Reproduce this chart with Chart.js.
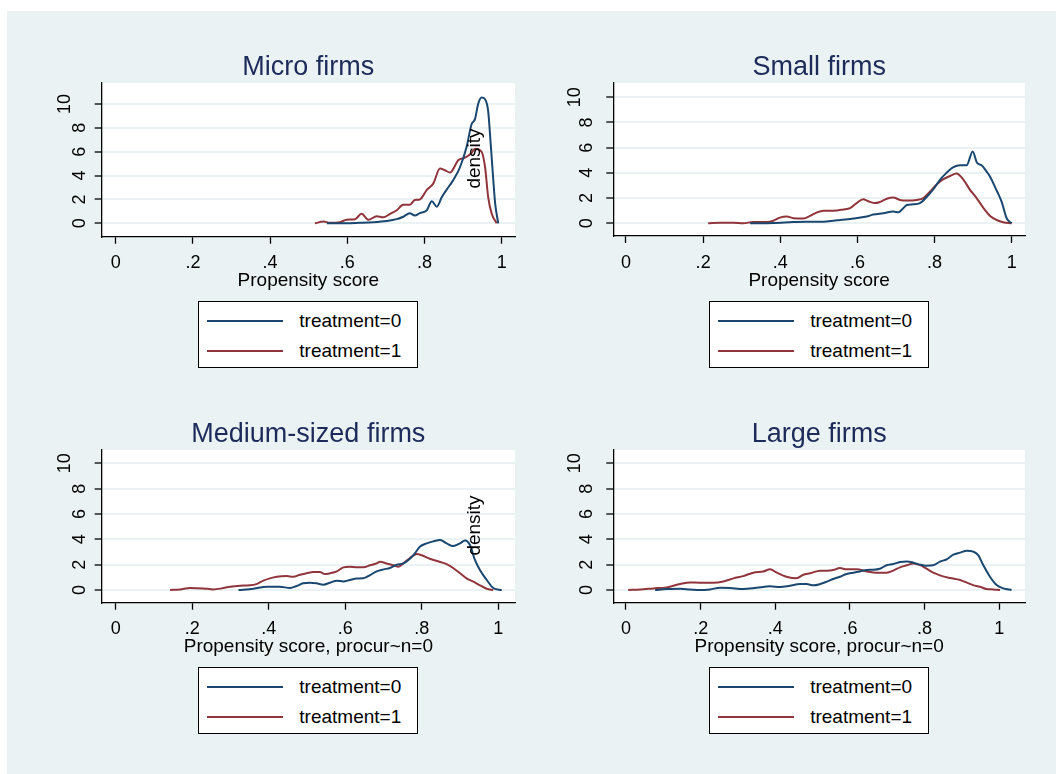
<!DOCTYPE html>
<html>
<head>
<meta charset="utf-8">
<title>Propensity score densities by firm size</title>
<script src="https://cdn.jsdelivr.net/npm/chart.js@4.4.1/dist/chart.umd.min.js"></script>
<style>
  html, body { margin: 0; padding: 0; background: #fff; }
  body { width: 1056px; height: 774px; position: relative; overflow: hidden; font-family: "Liberation Sans", Arial, sans-serif; }
  #graph { position: absolute; left: 7px; top: 11px; right: 0; bottom: 0; background: #eaf2f3; }
  canvas { position: absolute; }
  .legend { position: absolute; width: 220px; height: 67px; box-sizing: border-box; border: 1px solid #000; background: #fff; }
  .legend .swatch { position: absolute; left: 8px; width: 76px; height: 2px; }
  .legend .label { position: absolute; left: 100px; font-size: 19px; line-height: 22px; color: #000; white-space: nowrap; }
</style>
</head>
<body>
<div id="graph"></div>

<script>
// axis ticks
const TICKS_X = [0, 0.2, 0.4, 0.6, 0.8, 1];
const TICK_LABELS_X = ['0', '.2', '.4', '.6', '.8', '1'];
const TICKS_Y = [0, 2, 4, 6, 8, 10];

const SERIES_LABELS = ['treatment=0', 'treatment=1'];
const PANEL_TITLES = ['Micro firms', 'Small firms', 'Medium-sized firms', 'Large firms'];
const X_TITLES = ['Propensity score', 'Propensity score',
                  'Propensity score, procur~n=0', 'Propensity score, procur~n=0'];

// kernel density curves (x = propensity score, y = density)
const MICRO_T0_X = [.547,.58,.633,.668,.702,.728,.745,.762,.775,.788,.806,.819,.832,.845,.857,.874,.892,.909,.922,.931,.939,.948,.957,.965,.971,.977,.983,.991];
const MICRO_T0_Y = [0,0,.05,.1,.2,.35,.55,.85,.65,.85,1.1,1.85,1.4,2.2,2.8,3.6,4.7,6.4,8.3,8.75,10,10.55,10.4,9.4,6.9,4.2,1.7,0];
const MICRO_T1_X = [.516,.538,.555,.581,.598,.62,.637,.655,.676,.693,.711,.728,.745,.762,.775,.788,.806,.823,.84,.853,.866,.888,.905,.922,.931,.948,.957,.965,.974,.987];
const MICRO_T1_Y = [0,.15,.05,.1,.3,.35,.8,.3,.6,.5,.8,1.1,1.55,1.55,1.95,2.0,2.8,3.35,4.6,4.45,4.25,5.3,5.5,5.9,6.25,6.0,4.7,2.2,.83,0];

const SMALL_T0_X = [.322,.382,.434,.468,.512,.538,.555,.59,.624,.641,.667,.693,.706,.719,.728,.745,.762,.78,.797,.814,.831,.849,.866,.883,.899,.91,.922,.935,.944,.961,.974,.987,1.0];
const SMALL_T0_Y = [0,.03,.1,.13,.13,.2,.26,.37,.53,.69,.8,.93,.87,1.2,1.45,1.5,1.6,2.1,2.7,3.45,4.0,4.45,4.6,4.6,5.7,4.8,4.6,4.1,3.7,2.6,1.7,.4,0];
const SMALL_T1_X = [.213,.244,.278,.304,.33,.365,.382,.399,.417,.434,.46,.477,.494,.512,.538,.564,.581,.598,.615,.628,.646,.659,.676,.693,.71,.728,.754,.771,.788,.806,.823,.84,.857,.875,.892,.909,.927,.944,.961,.978,1.0];
const SMALL_T1_Y = [0,.05,.05,0,.1,.1,.2,.45,.53,.4,.37,.58,.85,1.0,1.0,1.1,1.2,1.6,1.9,1.75,1.6,1.7,1.95,2.05,1.85,1.8,1.85,2.0,2.5,3.1,3.5,3.75,3.95,3.45,2.65,2.0,1.2,.58,.26,.08,0];

const MEDIUM_T0_X = [.321,.36,.395,.429,.456,.473,.49,.508,.525,.543,.56,.578,.595,.612,.63,.647,.665,.682,.7,.717,.734,.752,.769,.782,.795,.813,.83,.848,.865,.882,.9,.913,.926,.939,.952,.97,.987,1.009];
const MEDIUM_T0_Y = [0,.1,.26,.26,.16,.32,.53,.58,.53,.42,.58,.74,.68,.79,.9,.92,1.18,1.47,1.63,1.74,2.0,2.1,2.47,2.9,3.42,3.68,3.84,3.95,3.68,3.47,3.68,3.9,3.55,2.37,1.58,.79,.16,0];
const MEDIUM_T1_X = [.142,.168,.194,.229,.255,.277,.299,.325,.351,.368,.386,.403,.421,.447,.464,.482,.499,.517,.534,.547,.56,.578,.595,.612,.63,.647,.665,.682,.691,.708,.726,.739,.752,.769,.787,.8,.821,.848,.865,.882,.9,.917,.935,.952,.97,.987];
const MEDIUM_T1_Y = [0,.05,.16,.13,.05,.13,.26,.34,.37,.47,.74,.92,1.05,1.1,1.05,1.21,1.32,1.42,1.42,1.26,1.32,1.47,1.79,1.84,1.79,1.79,1.95,2.1,2.24,2.1,1.95,1.84,2.1,2.53,2.84,2.74,2.47,2.21,2.05,1.74,1.32,.92,.66,.37,.1,0];

const LARGE_T0_X = [.078,.109,.145,.171,.198,.225,.252,.279,.314,.35,.386,.413,.439,.466,.484,.502,.52,.538,.555,.573,.591,.609,.627,.645,.663,.68,.698,.716,.734,.752,.77,.788,.805,.823,.841,.859,.877,.895,.913,.93,.944,.957,.975,.993,1.011,1.033];
const LARGE_T0_Y = [0,.08,.1,.05,0,.05,.18,.16,.08,.18,.29,.24,.34,.47,.47,.37,.47,.66,.87,1.05,1.26,1.37,1.47,1.58,1.6,1.68,1.95,2.05,2.21,2.26,2.16,2.0,1.92,1.95,2.24,2.42,2.79,2.95,3.1,3.03,2.74,1.97,1.05,.39,.13,0];
const LARGE_T1_X = [.006,.038,.073,.109,.145,.171,.198,.234,.261,.288,.314,.341,.368,.386,.404,.43,.457,.475,.493,.52,.538,.555,.573,.591,.618,.645,.671,.698,.716,.734,.752,.77,.788,.805,.823,.841,.868,.895,.913,.93,.948,.966,.984,1.002];
const LARGE_T1_Y = [0,.05,.13,.21,.47,.6,.58,.58,.68,.92,1.1,1.37,1.47,1.63,1.37,1.05,.92,1.21,1.32,1.53,1.53,1.58,1.74,1.63,1.63,1.47,1.37,1.37,1.53,1.79,1.95,2.1,1.97,1.68,1.37,1.16,.95,.79,.58,.39,.26,.08,.05,0];

const BLUE = '#1a476f';
const RED = '#90353b';
const GRID = '#eaf2f3';
const TITLE_COLOR = '#1c2b5a';
const FONT = '"Liberation Sans", Arial, Helvetica, sans-serif';

// canvas box and plot area in page pixels, scale ranges so ticks land where Stata put them
const panels = [
    { curves: [[MICRO_T0_X, MICRO_T0_Y], [MICRO_T1_X, MICRO_T1_Y]],
      box: { x: 0, y: 40, w: 528, h: 254 }, area: { l: 101.7, t: 83, r: 515, b: 236.7 },
      xMin: -0.0363, xMax: 1.0345, yMin: -1.12, yMax: 11.76,
      yGap: 21.7, yShift: 15.3, density: true, legendTop: 301 },
    { curves: [[SMALL_T0_X, SMALL_T0_Y], [SMALL_T1_X, SMALL_T1_Y]],
      box: { x: 528, y: 40, w: 528, h: 254 }, area: { l: 613.3, t: 83, r: 1025, b: 236 },
      xMin: -0.0329, xMax: 1.0345, yMin: -1.01, yMax: 11.13,
      yGap: 26.5, yShift: 11.8, density: false, legendTop: 301 },
    { curves: [[MEDIUM_T0_X, MEDIUM_T0_Y], [MEDIUM_T1_X, MEDIUM_T1_Y]],
      box: { x: 0, y: 405, w: 528, h: 255 }, area: { l: 101.7, t: 450, r: 515, b: 602.7 },
      xMin: -0.0366, xMax: 1.0437, yMin: -1.0, yMax: 11.05,
      yGap: 21.7, yShift: 15.3, density: true, legendTop: 667 },
    { curves: [[LARGE_T0_X, LARGE_T0_Y], [LARGE_T1_X, LARGE_T1_Y]],
      box: { x: 528, y: 405, w: 528, h: 255 }, area: { l: 613.3, t: 450, r: 1025, b: 602.7 },
      xMin: -0.034, xMax: 1.0689, yMin: -1.0, yMax: 11.05,
      yGap: 26.5, yShift: 11.8, density: false, legendTop: 667 }
];

// white plot region, title, rotated y labels and the stray "density" axis title
const stataDecor = {
    id: 'stataDecor',
    beforeDraw(chart) {
        const a = chart.chartArea;
        const ctx = chart.ctx;
        ctx.save();
        ctx.fillStyle = '#fff';
        ctx.fillRect(a.left, a.top, a.right - a.left, a.bottom - a.top);
        ctx.restore();
    },
    afterDraw(chart, args, opts) {
        const a = chart.chartArea;
        const ctx = chart.ctx;
        const yScale = chart.scales.y;

        ctx.save();
        ctx.fillStyle = TITLE_COLOR;
        ctx.font = '27px ' + FONT;
        ctx.textAlign = 'center';
        ctx.textBaseline = 'alphabetic';
        ctx.fillText(opts.title, (a.left + a.right) / 2, a.top - 8);

        ctx.fillStyle = '#000';
        ctx.font = '18px ' + FONT;
        ctx.textBaseline = 'middle';
        TICKS_Y.forEach(v => {
            const label = String(v);
            const cx = a.left - opts.yGap - (label.length - 1) * opts.yShift;
            ctx.save();
            ctx.translate(cx, yScale.getPixelForValue(v));
            ctx.rotate(-Math.PI / 2);
            ctx.fillText(label, 0, 0);
            ctx.restore();
        });

        if (opts.density) {
            ctx.font = '19px ' + FONT;
            ctx.translate(a.left + 373, a.top + 75.5);
            ctx.rotate(-Math.PI / 2);
            ctx.fillText('density', 0, 0);
        }
        ctx.restore();
    }
};

panels.forEach((p, i) => {
    const canvas = document.createElement('canvas');
    canvas.width = p.box.w;
    canvas.height = p.box.h;
    canvas.style.left = p.box.x + 'px';
    canvas.style.top = p.box.y + 'px';
    canvas.style.width = p.box.w + 'px';
    canvas.style.height = p.box.h + 'px';
    document.body.appendChild(canvas);

    const colors = [BLUE, RED];
    const datasets = p.curves.map(([xs, ys], k) => ({
        label: SERIES_LABELS[k],
        data: xs.map((x, j) => ({ x: x, y: ys[j] })),
        borderColor: colors[k],
        borderWidth: 2,
        pointRadius: 0,
        cubicInterpolationMode: 'monotone',
        fill: false
    }));

    new Chart(canvas, {
        type: 'line',
        data: { datasets },
        plugins: [stataDecor],
        options: {
            responsive: false,
            animation: false,
            devicePixelRatio: 1,
            layout: {
                padding: {
                    left: 0,
                    top: p.area.t - p.box.y,
                    right: p.box.x + p.box.w - p.area.r,
                    bottom: 0
                }
            },
            plugins: {
                legend: { display: false },
                tooltip: { enabled: false },
                stataDecor: { title: PANEL_TITLES[i], yGap: p.yGap, yShift: p.yShift, density: p.density }
            },
            scales: {
                x: {
                    type: 'linear',
                    min: p.xMin,
                    max: p.xMax,
                    afterBuildTicks: s => { s.ticks = TICKS_X.map(v => ({ value: v })); },
                    afterFit: s => { s.height = p.box.y + p.box.h - p.area.b; },
                    grid: { drawOnChartArea: false, drawTicks: true, tickLength: 7, tickColor: '#000', tickWidth: 1.3 },
                    border: { display: true, color: '#000', width: 1.3 },
                    ticks: {
                        autoSkip: false, maxRotation: 0, minRotation: 0, padding: 9,
                        color: '#000', font: { family: FONT, size: 18 },
                        callback: (v, idx) => TICK_LABELS_X[idx]
                    },
                    title: {
                        display: true, text: X_TITLES[i], color: '#000',
                        font: { family: FONT, size: 19 }, padding: { top: 0, bottom: 2 }
                    }
                },
                y: {
                    type: 'linear',
                    min: p.yMin,
                    max: p.yMax,
                    afterBuildTicks: s => { s.ticks = TICKS_Y.map(v => ({ value: v })); },
                    afterFit: s => { s.width = p.area.l - p.box.x; },
                    grid: { color: GRID, lineWidth: 2, drawTicks: true, tickLength: 7, tickColor: '#000', tickWidth: 1.3 },
                    border: { display: true, color: '#000', width: 1.3 },
                    ticks: { display: false }
                }
            }
        }
    });

    // legend box in Stata style, built from the chart's series
    const cx = (p.area.l + p.area.r) / 2;
    const legend = document.createElement('div');
    legend.className = 'legend';
    legend.style.left = (cx - 110) + 'px';
    legend.style.top = p.legendTop + 'px';
    datasets.forEach((ds, k) => {
        const yMid = 19 + k * 30;
        const sw = document.createElement('div');
        sw.className = 'swatch';
        sw.style.background = ds.borderColor;
        sw.style.top = (yMid - 1) + 'px';
        const lab = document.createElement('div');
        lab.className = 'label';
        lab.style.top = (yMid - 11) + 'px';
        lab.textContent = ds.label;
        legend.appendChild(sw);
        legend.appendChild(lab);
    });
    document.body.appendChild(legend);
});
</script>
</body>
</html>
